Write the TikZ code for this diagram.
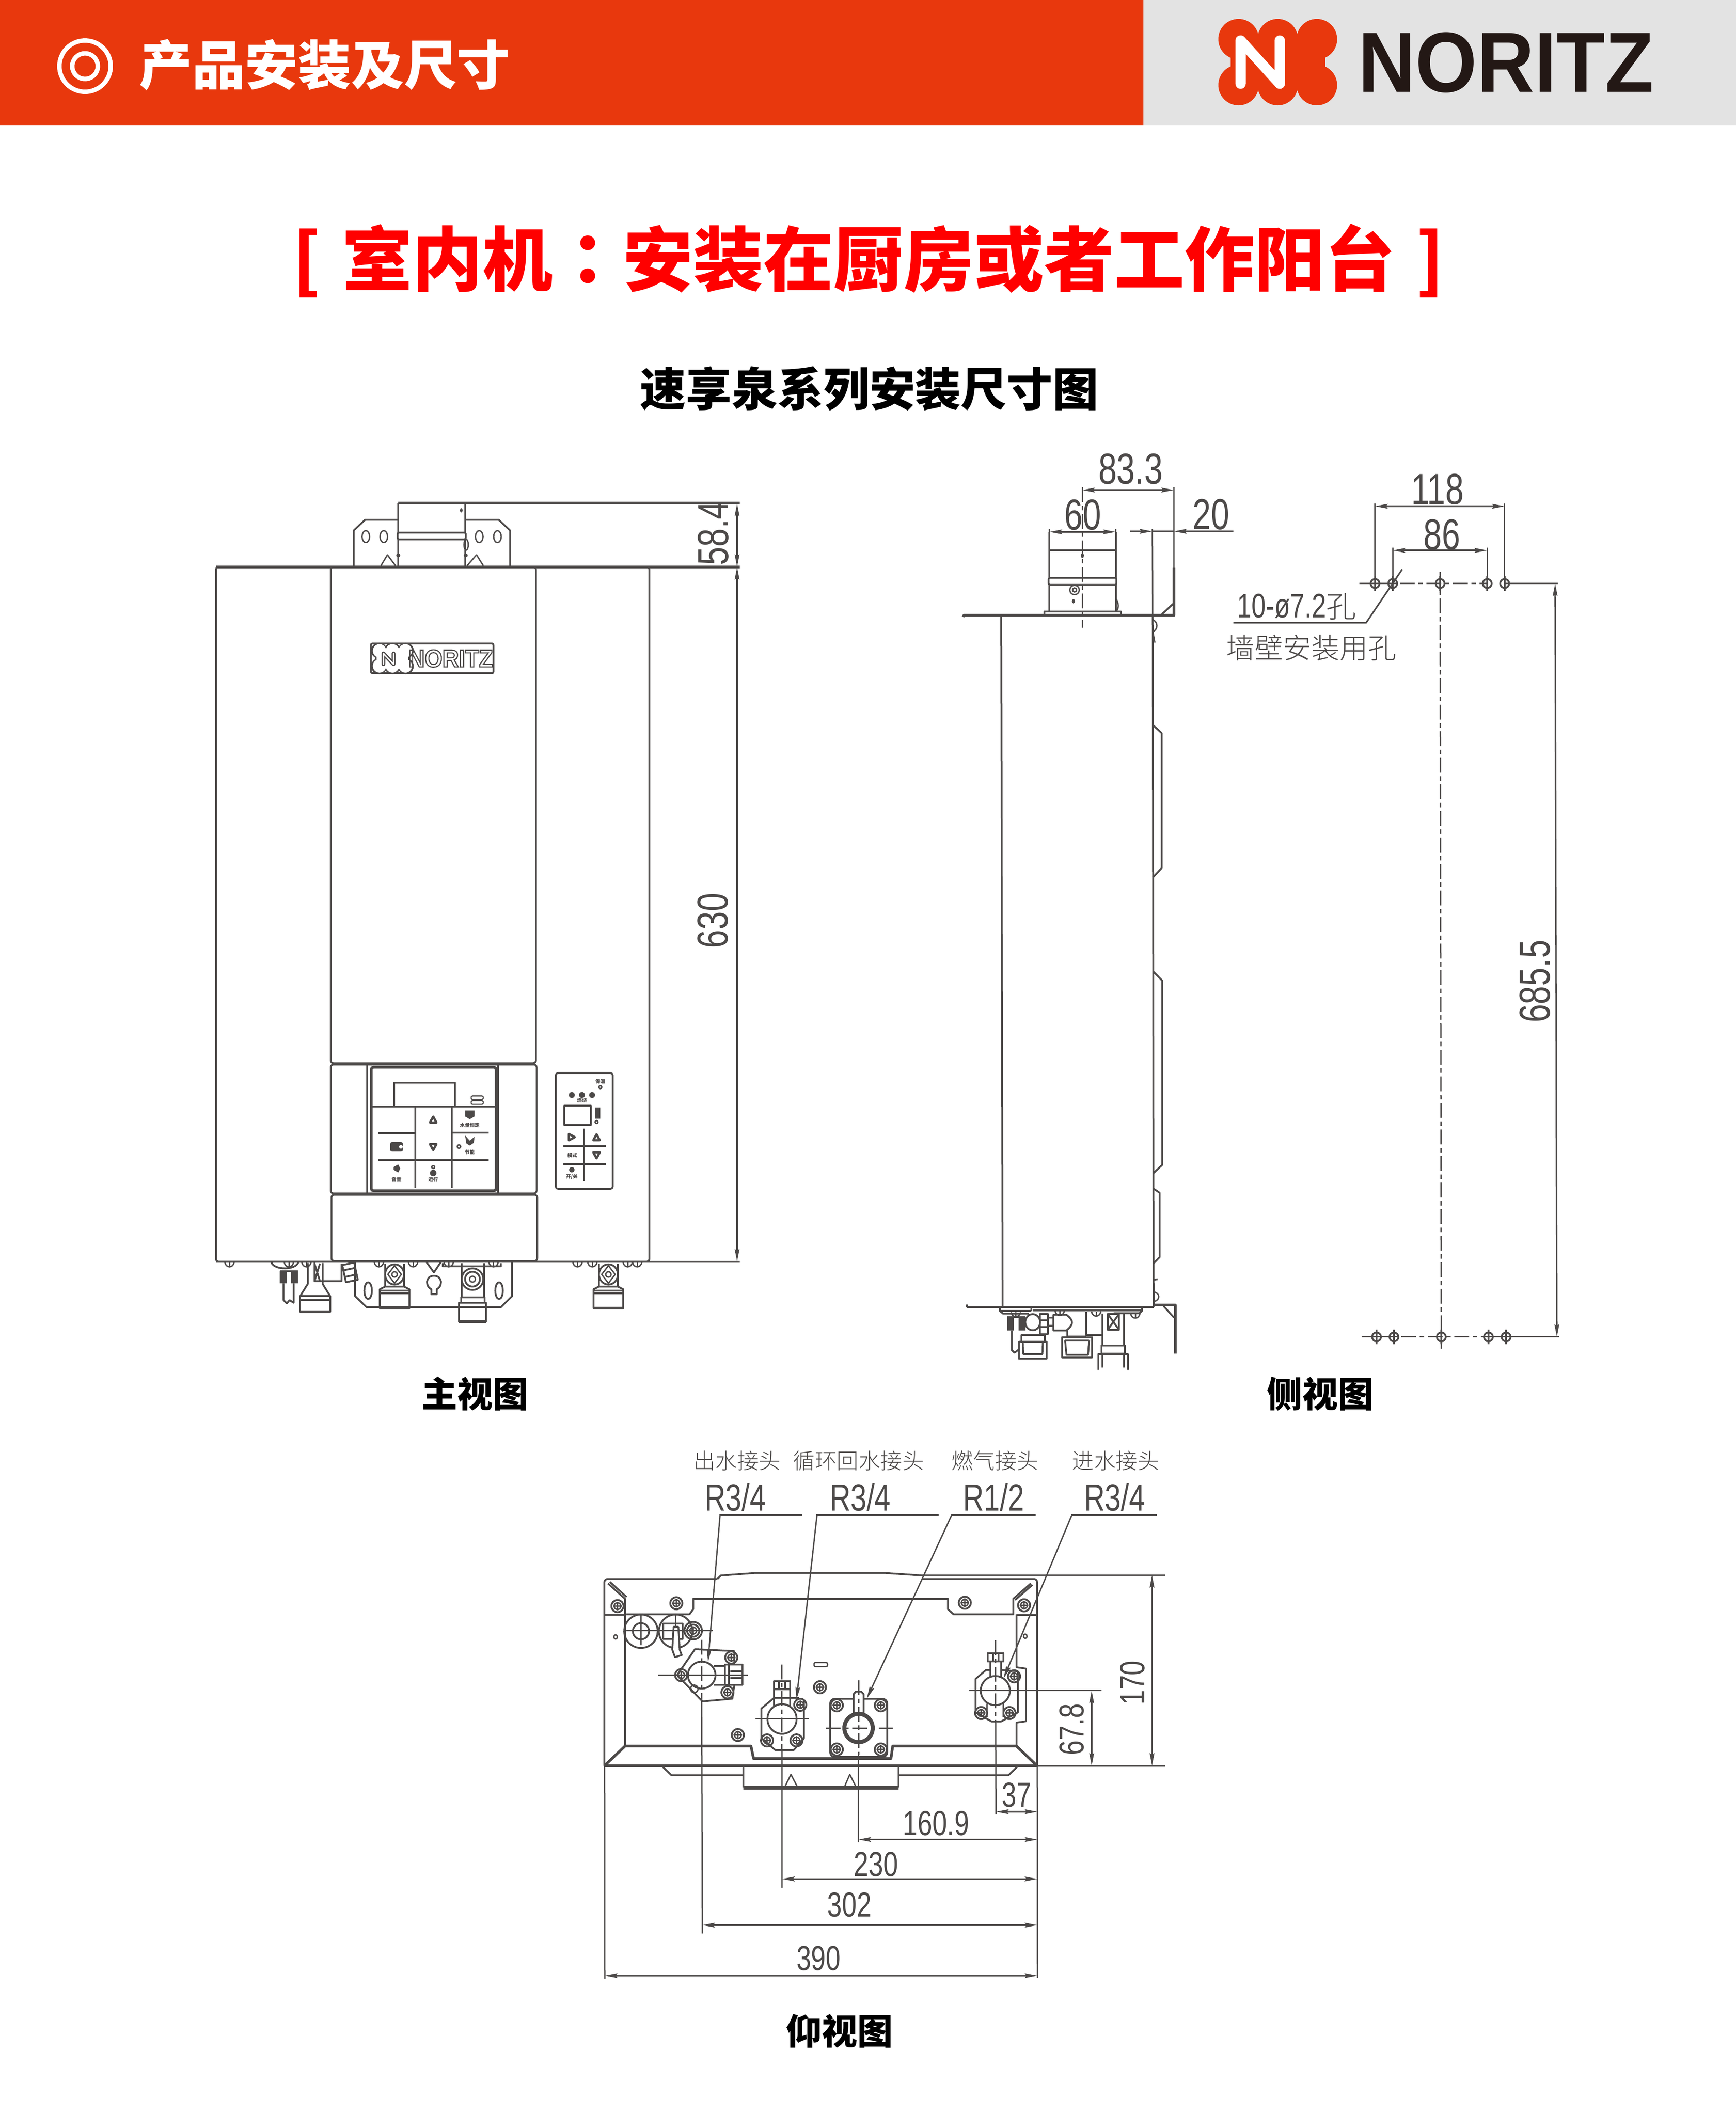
\documentclass[tikz,border=0pt]{standalone}
\usepackage{fontspec}
\usetikzlibrary{arrows.meta}
\newfontfamily\cjk{Noto Sans CJK SC}
\newfontfamily\cjkblack{Noto Sans CJK SC Black}
\newfontfamily\cjkthin{Noto Sans CJK SC Light}
\newfontfamily\cjktc{Noto Sans CJK TC Black}
\newfontfamily\dimfont[FakeStretch=0.76]{Liberation Sans}
\newfontfamily\logofont[FakeStretch=0.93]{Liberation Sans}
\definecolor{headred}{HTML}{E8380D}
\definecolor{headgray}{HTML}{E3E3E3}
\definecolor{logoblack}{HTML}{231815}
\definecolor{linegray}{HTML}{4C4948}
\tikzset{
  >={Stealth[length=2.8mm,width=1.05mm,inset=0.4mm]},
  part/.style={draw=linegray, line width=0.4mm, line join=round},
  thinpart/.style={draw=linegray, line width=0.3mm, line join=round},
  heavypart/.style={draw=linegray, line width=0.6mm, line join=round},
  dim/.style={draw=linegray, line width=0.33mm, <->},
  extline/.style={draw=linegray, line width=0.3mm},
  leader/.style={draw=linegray, line width=0.3mm, ->},
  axisline/.style={draw=linegray, line width=0.3mm, dash pattern=on 3.3mm off 0.8mm on 1mm off 0.8mm},
  dimbig/.style={font=\dimfont\fontsize{27.5}{27.5}\selectfont, text=linegray, inner sep=0pt},
  dimsmall/.style={font=\dimfont\fontsize{22}{22}\selectfont, text=linegray, inner sep=0pt},
  sizelabel/.style={font=\dimfont\fontsize{24}{24}\selectfont, text=linegray, inner sep=0pt},
  cjklabel/.style={font=\cjkthin\fontsize{13.8}{14}\selectfont, text=linegray, inner sep=0pt},
  caption/.style={font=\cjkblack\fontsize{22.5}{23}\selectfont, inner sep=0pt},
  tinylabel/.style={font=\cjk\bfseries\fontsize{3.1}{3.2}\selectfont, text=linegray, inner sep=0pt},
  flower/.pic={
    \foreach \lx in {-29,0,29} \foreach \ly in {-17,17} {\path[pic actions] (\lx,\ly) circle (15);}
    \path[pic actions] (-35,-9) rectangle (35,9);
    \path[pic actions] (-29,-17) rectangle (29,17);
  },
  screw/.pic={
    \draw[part,fill=white] (0,0) circle (4.5);
    \draw[thinpart] (0,0) circle (2.5) (-3.2,0) -- (3.2,0) (0,-3.2) -- (0,3.2);
  },
  halfscrew/.pic={
    \draw[thinpart] (-3.5,0) .. controls (-2.5,4.5) and (2.5,4.5) .. (3.5,0);
    \draw[thinpart] (0,0) -- (0,3.5);
  },
  wallhole/.pic={
    \draw[part] (0,0) circle (3.3) (0,-5.4) -- (0,5.4);
  },
  frontvalve/.pic={
    \draw[part] (-7,1) -- (-7,18) (7,1) -- (7,18);
    \draw[part] (0,9) ellipse (7 and 7.5);
    \draw[thinpart] (0,2.5) -- (5,9) -- (0,15.5) -- (-5,9) -- cycle (0,9) circle (2);
    \draw[part] (-7,18) -- (-11,20) -- (-11,34) -- (11,34) -- (11,20) -- (7,18) -- cycle;
    \draw[part] (-11,21) -- (11,21) (-11,23) -- (11,23);
    \draw[heavypart] (-11,34) -- (11,34);
  },
  uptri/.pic={\draw[part,line width=0.5mm] (0,-2.4) -- (2.4,2) -- (-2.4,2) -- cycle;},
}

\begin{document}
\begin{tikzpicture}[x=0.3mm,y=-0.3mm]
  \useasboundingbox (0,0) rectangle (1286,1566.67);

  % header band
  \fill[headred] (0,0) rectangle (847,93);
  \fill[headgray] (847,0) rectangle (1286,93);
  \draw[white,line width=1mm] (63,49) circle (19);
  \draw[white,line width=1mm] (63,49) circle (9.5);
  \node[font=\cjkblack\fontsize{33.5}{34}\selectfont,text=white,inner sep=0pt] (headtext) at (240.5,48) {产品安装及尺寸};
  \pic[fill=headred] at (946.5,46) {flower};
  \draw[white,line width=2.3mm,line cap=round,line join=round] (919,62) -- (919,30) -- (948,62) -- (948,30);
  \node[font=\logofont\bfseries\fontsize{54}{54}\selectfont,text=logoblack,inner sep=0pt] (logotext) at (1115.5,46.5) {NORITZ};

  % titles
  \node[font=\cjkblack\fontsize{44.4}{45}\selectfont,text=red,inner sep=0pt] (maintitle) at (643.5,193)
    {[\hspace{0.3em}室内机{\cjktc：}安装在厨房或者工作阳台\hspace{0.3em}]};
  \node[font=\cjkblack\fontsize{29}{30}\selectfont,inner sep=0pt] (subtitle) at (644,288) {速享泉系列安装尺寸图};

  % front view
  \draw[part,rounded corners=0.5mm] (160,420) rectangle (481,934.5);
  \draw[part,rounded corners=0.6mm] (245,420) rectangle (397,787.5);
  \draw[part,rounded corners=0.6mm] (245,788.5) rectangle (397.5,884);
  \draw[part,rounded corners=0.6mm] (245.5,885) rectangle (398,934);
  \draw[part] (272,789) -- (272,884) (369,789) -- (369,884);
  \draw[heavypart] (160,420) -- (548,420);
  \draw[part] (160,934.5) -- (548,934.5);
  % flue and brackets
  \draw[heavypart] (295,372.5) -- (548,372.5);
  \draw[part] (295,372.5) -- (295,419.5) (344.5,372.5) -- (344.5,419.5);
  \draw[part,rounded corners=0.3mm,fill=white] (294.5,394.5) rectangle (345,399.5);
  \draw[part] (295,385) -- (270.5,385) -- (262,393) -- (262,419.5);
  \draw[part] (344.5,385) -- (369.4,385) -- (377.9,393) -- (377.9,419.5);
  \foreach \sx in {271,284.3,355,368.5} {\draw[thinpart] (\sx,397.5) ellipse (2.8 and 4.4);}
  \draw[thinpart] (282.2,419) -- (287,411) -- (293,419) (346,419) -- (353,411) -- (358,419);
  \fill[linegray] (341.7,378) ellipse (1 and 1.6) (295,411.4) circle (1.5) (345,411.4) circle (1.5);
  \draw[thinpart] (345.3,403.5) ellipse (1.6 and 4);
  % name plate
  \draw[part,rounded corners=0.3mm] (274.8,476.7) rectangle (365.5,498.7);
  \pic[scale=0.34,draw=linegray,line width=0.5mm] at (290.7,487.7) {flower};
  \pic[scale=0.33,fill=white] at (290.7,487.7) {flower};
  \draw[linegray,line width=0.85mm,line join=round,line cap=round] (284,492) -- (284,484) -- (291.5,492) -- (291.5,484);
  \draw[white,line width=0.3mm,line join=round,line cap=round] (284,492) -- (284,484) -- (291.5,492) -- (291.5,484);
  \node[font=\logofont\bfseries\fontsize{15.5}{16}\selectfont,text=linegray,inner sep=0pt] (plateword) at (333.8,487.8)
    {\special{pdf:code 1 Tr 0.7 w}NORITZ\special{pdf:code 0 Tr}};
  % control panel
  \draw[heavypart,rounded corners=0.5mm] (275,790.5) rectangle (367.5,882);
  \draw[part] (292,819.5) -- (292,802) -- (337,802) -- (337,819.5);
  \draw[part] (275,819.5) -- (367.5,819.5);
  \draw[thinpart,rounded corners=0.3mm,line width=0.25mm] (349,811.8) rectangle (358,814.4) (349,815.4) rectangle (358,818);
  \draw[part] (307.5,819.5) -- (307.5,880) (334.7,819.5) -- (334.7,880);
  \draw[part] (280,839.4) -- (307.5,839.4) (334.7,839) -- (362,839);
  \draw[part] (280,859.4) -- (362,859.4);
  \pic at (320.9,829.5) {uptri};
  \pic[yscale=-1] at (320.9,849.5) {uptri};
  \fill[linegray] (344.5,822.5) -- (351.5,822.5) -- (351.5,827) -- (348,829) -- (344.5,827) -- cycle;
  \node[tinylabel] (paneltag) at (348,833.4) {水量恒定};
  \fill[linegray] (344.5,841) -- (348,845) -- (351.5,842) -- (351,846.5) -- (348,848.5) -- (345.5,847) -- cycle;
  \draw[thinpart] (340,849.3) circle (1.3);
  \node[tinylabel] (paneleco) at (348,853.4) {节能};
  \fill[linegray,rounded corners=0.4mm] (289,846) rectangle (298.5,853);
  \fill[white] (297,849.5) circle (1.4);
  \fill[linegray] (291.5,864.5) -- (295,862.5) -- (296.5,865.5) -- (295,868.5) -- (291.5,866.5) -- cycle;
  \node[tinylabel] (panelvol) at (293.7,873.6) {音量};
  \draw[thinpart] (320.9,864.5) circle (1.1);
  \fill[linegray] (320.9,868.9) circle (2.4);
  \node[tinylabel] (panelrun) at (320.9,873.9) {运行};
  % second panel
  \draw[part,rounded corners=0.5mm] (411.7,794.8) rectangle (453.9,880.6);
  \node[tinylabel] (sidetag) at (444.7,801.1) {保温};
  \draw[thinpart] (444.7,805.3) circle (1.1) (441.9,831.1) circle (1.1);
  \fill[linegray] (423.6,811.1) circle (2.2) (431.1,811.1) circle (2.2) (438.6,811.1) circle (2.2);
  \node[tinylabel] (sidewater) at (431.1,815) {燃烧};
  \draw[part] (418.1,818.9) rectangle (437.6,833.4);
  \fill[linegray] (440.8,820.2) rectangle (444.8,828.6);
  \draw[part] (432.8,836.1) -- (432.8,875) (417.3,848.9) -- (448.9,848.9) (417.3,862.3) -- (448.9,862.3);
  \pic[rotate=-90] at (423.4,842.3) {uptri};
  \pic at (441.9,842.6) {uptri};
  \pic[yscale=-1] at (441.9,855.6) {uptri};
  \node[tinylabel] (sidemode) at (423.9,855.9) {模式};
  \fill[linegray] (423.6,866.5) circle (2);
  \node[tinylabel] (sidepower) at (423.6,871.7) {开/关};
  % fittings under the front view
  \draw[part] (201,935) .. controls (203,941) and (219,941) .. (221,935);
  \fill[linegray] (207.2,941.5) rectangle (212.5,950.5) (215.5,941.5) rectangle (220.8,950.5);
  \draw[part] (207.2,941.5) -- (220.8,941.5);
  \draw[part] (210,950.5) -- (210,963) -- (212.5,965.5) -- (214.5,963) -- (217.5,965) -- (217.5,950.5);
  \draw[part] (228,935.5) -- (228,951) -- (222.4,960) (239,935.5) -- (239,951) -- (244.5,960);
  \draw[part] (222.4,960) rectangle (244.5,971.7) (222.4,963) -- (244.5,963);
  \draw[heavypart] (222.4,971.7) -- (244.5,971.7);
  \draw[part] (233,935) -- (233,949) -- (253,949) -- (253,936) (233,936) -- (237,949) (237,936) -- (233,949);
  \draw[part,rotate around={12:(259.3,942.5)}] (254.8,936) rectangle (263.8,949) (255,940) -- (263,940) (255,945) -- (263,945);
  \draw[part] (263,935) -- (263,960) -- (271.6,968.3) -- (371,968.3) -- (379.4,960) -- (379.4,935);
  \draw[part] (272.7,956) ellipse (2.8 and 6.2) (369.7,956) ellipse (2.8 and 6.2);
  \draw[part] (321.4,945) .. controls (328,945) and (328,953) .. (323.5,955) -- (323.5,958.7) -- (319.5,958.7) -- (319.5,955) .. controls (315,953) and (315,945) .. (321.4,945);
  \draw[part] (316,935) -- (321.4,942.5) -- (326.5,935);
  \pic at (292.3,935) {frontvalve};
  \pic at (450.7,935) {frontvalve};
  % gas fitting
  \draw[part] (342,935.5) -- (342,961) (358.7,935.5) -- (358.7,961);
  \draw[part] (350,947.5) circle (8) (350,947.5) circle (5.5);
  \draw[thinpart] (350,947.5) circle (2.2);
  \draw[part] (341.5,961) rectangle (358.9,965) (340,965) rectangle (360,979);
  \draw[heavypart] (340,979) -- (360,979);
  \draw[part] (328,935.5) -- (328,938) -- (371,938) -- (371,935.5);
  \foreach \sx in {170,214,227,280.7,306,332.4,365.6,427.8,438.8,465,472} {\pic at (\sx,935) {halfscrew};}
  % front view dimensions
  \coordinate (mtop) at (546,373);
  \coordinate (mmid) at (546,420);
  \coordinate (mbot) at (546,934.5);
  \draw[dim] (mtop) -- (mmid);
  \draw[dim] (mmid) -- (mbot);
  \node[dimbig,rotate=90] (dimflue) at (528.5,395) {58.4};
  \node[dimbig,rotate=90] (dimbody) at (528,682) {630};
  \node[caption] (frontcap) at (352,1032.5) {主视图};

  % side view
  \draw[part] (741.7,456) -- (742.7,968.3) (853.9,456) -- (854.6,968);
  \draw[heavypart] (713.4,457) -- (714,455.8) -- (869.6,455.8) -- (869.6,420.5);
  \draw[part] (860.7,455) -- (869,447.3);
  \draw[part] (777.4,394) -- (777.4,453) (826.5,394) -- (826.5,453) (777.4,407.8) -- (826.5,407.8);
  \draw[part,rounded corners=0.3mm,fill=white] (776.8,428) rectangle (827,433.2);
  \draw[part] (773.8,455.6) -- (773.8,453) -- (830.4,453) -- (830.4,455.6);
  \draw[thinpart] (796,437) circle (3.5) (796,437) circle (1.5);
  \fill[linegray] (795.2,445.4) ellipse (1.2 and 1.6) (801.8,411.5) ellipse (1.2 and 1.8);
  \draw[thinpart] (826.5,443) .. controls (829,447) and (829,451) .. (826.5,453);
  \draw[thinpart] (854,459) .. controls (858,461) and (858,466) .. (854,468) -- (855.5,476);
  \draw[part] (854,537) -- (860.5,543) -- (860.5,643) -- (854,650);
  \draw[part] (854.3,719.6) -- (861,726.4) -- (861,862.8) -- (854.4,869);
  \draw[part] (854.4,880.4) -- (859,883.5) -- (859,931.2) -- (854.6,935.8);
  \draw[part] (855,948) -- (857.5,947.5);
  \draw[thinpart] (855,957) .. controls (859.5,958) and (859.5,963) .. (855,964);
  \draw[part] (716,968.3) -- (854.8,968.3);
  \draw[part] (716,968.3) -- (716.5,966.3);
  \draw[heavypart] (854.8,966.8) -- (870.6,966.8) -- (870.6,1002.8);
  \draw[part] (862,967.5) -- (869.7,976);
  \draw[part] (740.6,968.5) -- (740.6,971) -- (743,973) -- (762,973);
  \draw[part] (740.6,971) -- (764,971) (764,968.5) -- (764,971) (765,970.5) -- (845,970.5);
  \draw[part] (846,968.5) -- (846,971) -- (844,972.8) -- (825,972.8);
  % fittings under the side view
  \fill[linegray] (746,975.5) rectangle (751,985.5) (754.5,975.5) rectangle (759.7,985.5);
  \draw[part] (746,975.5) -- (759.7,975.5);
  \draw[part] (749.5,985.5) -- (749.5,1000) -- (751.5,1002) -- (754.9,999.5);
  \draw[part] (765,979.4) ellipse (5.5 and 6);
  \draw[part] (770.4,973.3) rectangle (776.3,988.3) (770.4,978) -- (776.3,978) (770.4,983) -- (776.3,983);
  \draw[part] (776.3,976) rectangle (780.4,982);
  \draw[part] (780.4,973.9) -- (790,973.9) .. controls (795.5,978) and (795.5,981) .. (790,985.5) -- (780.4,985.5) -- cycle;
  \draw[part] (756.8,988.9) rectangle (774,993.9);
  \draw[part] (754.9,993.9) rectangle (775.3,1006.4) (757.7,994) -- (758,1003) -- (772.2,1003) -- (772.5,994);
  \draw[part] (790.6,985.5) -- (790.6,990) (804.6,971.6) -- (804.6,988.9) -- (816.8,988.9) (790.6,990) -- (804.6,990);
  \draw[part] (786.8,990.5) -- (809,990.5) -- (809,1005.5) -- (786.8,1005.5) -- cycle (789,993) -- (806.8,993) (789,993) -- (790,1003.5) -- (806,1003.5) -- (806.8,993);
  \draw[part] (816.8,973) -- (816.8,996.6) (832.7,973) -- (832.7,996.6);
  \draw[part] (820.6,973.3) rectangle (828.9,985) (820.6,973.3) -- (828.9,985) (828.9,973.3) -- (820.6,985);
  \draw[part] (815.9,996.6) rectangle (833.3,1002.8);
  \draw[part] (813.6,1014.7) -- (813.6,1003) -- (835.6,1003) -- (835.6,1014.7) (816.5,1003) -- (816.5,1013) (832.7,1003) -- (832.7,1013);
  \foreach \sx/\sy in {752.5/972,812/971.5,841/973,785/971} {\pic at (\sx,\sy) {halfscrew};}
  % side view dimensions
  \coordinate (saxis) at (801.8,363);
  \coordinate (sedge) at (869.6,363);
  \coordinate (wleft) at (777.4,394);
  \coordinate (wright) at (826.5,394);
  \coordinate (gapa) at (853.6,393.6);
  \coordinate (gapb) at (869.6,393.6);
  \coordinate (gapfara) at (837,393.6);
  \coordinate (gapfarb) at (913.7,393.6);
  \draw[axisline] (801.8,361) -- (801.8,465);
  \draw[extline] (869.6,361) -- (869.6,421) (853.6,392) -- (853.9,456) (777.4,392) -- (777.4,395) (826.5,392) -- (826.5,395);
  \draw[dim] (saxis) -- (sedge);
  \draw[dim] (wleft) -- (wright);
  \draw[extline,->] (gapfara) -- (gapa);
  \draw[extline,->] (gapfarb) -- (gapb);
  \draw[extline] (gapa) -- (gapb);
  \node[dimbig] (dimdepth) at (837.5,347.5) {83.3};
  \node[dimbig] (dimflued) at (802,381.5) {60};
  \node[dimbig] (dimgap) at (897,381) {20};
  \node[caption] (sidecap) at (978,1032.5) {侧视图};

  % wall holes
  \foreach \hx in {1018.6,1031.7,1066.8,1101.7,1114.6} {\pic at (\hx,432.2) {wallhole};}
  \foreach \hx in {1019.7,1032.6,1067.7,1102.6,1115.7} {\pic at (\hx,990.3) {wallhole};}
  \draw[extline] (1007,432.2) -- (1035,432.2) (1114.6,432.2) -- (1154,432.2) (1008.7,990.3) -- (1036,990.3) (1102.6,990.3) -- (1155,990.3);
  \draw[axisline] (1037,432.2) -- (1101.7,432.2);
  \draw[axisline] (1038,990.3) -- (1102,990.3);
  \draw[axisline] (1066.8,423.7) -- (1067.7,999);
  \draw[extline] (1018.6,373) -- (1018.6,429) (1114.6,373) -- (1114.6,429) (1031.7,405.8) -- (1031.7,429) (1101.7,405.8) -- (1101.7,429);
  \coordinate (ha) at (1018.6,375);
  \coordinate (hb) at (1114.6,375);
  \coordinate (hc) at (1031.7,407.7);
  \coordinate (hd) at (1101.7,407.7);
  \coordinate (he) at (1152,432.2);
  \coordinate (hf) at (1153.3,990.3);
  \draw[dim] (ha) -- (hb);
  \draw[dim] (hc) -- (hd);
  \draw[dim] (he) -- (hf);
  \node[dimbig] (dimouter) at (1065,362.5) {118};
  \node[dimbig] (diminner) at (1068,396) {86};
  \node[dimbig,rotate=90] (dimheight) at (1137,727) {685.5};
  \coordinate (na) at (913.7,461.3);
  \coordinate (nb) at (1012,461.3);
  \coordinate (nc) at (1038.7,421.7);
  \draw[extline,line width=0.35mm] (na) -- (nb) -- (nc);
  \node[font=\dimfont\fontsize{21.5}{22}\selectfont,text=linegray,inner sep=0pt] (holetext) at (960.5,449.5) {10-ø7.2{\cjkthin\fontsize{19}{20}\selectfont 孔}};
  \node[cjklabel,font=\cjkthin\fontsize{17.9}{18}\selectfont] (holenote) at (971.5,480) {墙壁安装用孔};

  % bottom view outline
  \draw[part,rounded corners=0.7mm] (531.4,1169.6) -- (447.7,1169.6) -- (447.7,1308);
  \draw[part] (531.4,1169.6) -- (534,1167) -- (559,1165.2) -- (655.8,1165.2) -- (683.4,1167);
  \draw[part,rounded corners=0.7mm] (683,1169.6) -- (768.3,1169.6) -- (768.3,1308);
  \draw[heavypart] (447.7,1308) -- (768.3,1308);
  \draw[extline] (683.4,1166.7) -- (863,1166.7) (768.3,1308) -- (863,1308);
  \draw[heavypart] (447.7,1308) -- (463,1293.4) -- (556.3,1293.4) -- (558.2,1302.6) -- (660,1302.6) -- (661.3,1293.4) -- (753,1293.4) -- (768.3,1308);
  \draw[part] (463,1195.8) -- (463,1293.4) (753,1195.8) -- (753,1235) -- (760,1236) -- (760,1275) -- (753,1276) -- (753,1293.4);
  \draw[part] (447.7,1196.2) -- (463,1196.2) -- (463,1184.3) -- (450.4,1172.9) (451.8,1171.8) -- (464.2,1183);
  \draw[part] (464,1195.8) -- (510.7,1195.8) -- (513.5,1192) -- (513.5,1184.3) -- (702.2,1184.3) -- (702.2,1192) -- (706.4,1195.8) -- (750.6,1195.8) -- (750.6,1184.3) -- (763.6,1172.9) (752,1185.2) -- (764.8,1173.9);
  \draw[part] (753,1196.2) -- (768.3,1196.2);
  \foreach \sx/\sy in {457.4/1189.7,501/1187.6,714.7/1187.2,758.6/1189.1,513.5/1207.9,541.7/1227.8,504.6/1240.8,538.9/1253.6,592.8/1262.8,607.4/1249.8,546.6/1285.2,568.2/1289.2,590/1289.2,619.9/1263.2,652.5/1263.2,619.9/1295.9,652.5/1295.9,751.2/1241.7,726.8/1268.9,747.8/1268.9} {\pic at (\sx,\sy) {screw};}
  \draw[thinpart] (456,1212.5) ellipse (1.3 and 1.6) (759.5,1212) ellipse (1.3 and 1.6);
  \draw[thinpart,rounded corners=0.3mm] (603,1231.5) rectangle (613,1234.5);
  % flue and air connections
  \draw[part] (474.8,1208.3) circle (12.4) (474.8,1208.3) circle (6) (500.5,1208.3) circle (12.4);
  \draw[part] (491.3,1202.5) rectangle (505.7,1214);
  \draw[part,fill=white] (499,1205) -- (502.5,1205) -- (503.5,1222) -- (505,1226) -- (500,1227.5) -- (498,1222) -- cycle;
  \draw[part] (513.5,1207.9) circle (6.5);
  \draw[extline] (464,1207.9) -- (528,1207.9) (474.8,1195.8) -- (474.8,1218.8) (500.5,1195.8) -- (500.5,1206);
  % outlet connection
  \draw[part] (501.6,1240.8) -- (514.8,1221.6) -- (543.9,1223) -- (544,1233);
  \draw[part] (501.6,1240.8) -- (520.4,1260.3) -- (542.5,1258.3) -- (544,1248);
  \draw[part] (519.8,1240.8) ellipse (10.2 and 10);
  \draw[part] (529,1234) -- (537,1234) (529,1248) -- (537,1248);
  \draw[part] (537,1233) rectangle (550,1248) (540,1233) -- (540,1248) (541,1238) -- (550,1238) (541,1243) -- (550,1243);
  \draw[thinpart] (514.3,1251) circle (2.8);
  \draw[extline] (487.8,1240.8) -- (554,1240.8);
  % return connection
  \draw[part] (573.4,1245.2) rectangle (585.3,1251.3) (577,1245.2) -- (577,1251.3) (581.5,1245.2) -- (581.5,1251.3);
  \draw[part] (573.4,1251.3) -- (573.4,1264) (585.3,1251.3) -- (585.3,1264) (573.4,1257.5) -- (592,1257.5);
  \draw[part] (573,1258) -- (564,1265.6) -- (564,1287.6) -- (574.3,1296.3) -- (588,1296.3) -- (595.5,1287.6) -- (595.5,1259);
  \draw[part] (579.3,1273.3) ellipse (10.8 and 11);
  \draw[extline] (559.6,1273.3) -- (599.2,1273.3);
  % gas connection
  \draw[part,rounded corners=1mm] (615,1258.4) rectangle (657.2,1301.4);
  \draw[part,fill=white] (632.3,1271) -- (632.3,1255) -- (634,1253) -- (638,1253) -- (639.8,1255) -- (639.8,1271);
  \draw[line width=0.9mm,draw=linegray,fill=white] (636,1280) circle (10.5);
  \draw[axisline] (611.6,1280) -- (661.3,1280);
  % inlet connection
  \draw[part] (731.8,1224.5) rectangle (743.4,1230.8) (735.5,1224.5) -- (735.5,1230.8) (739.5,1224.5) -- (739.5,1230.8);
  \draw[part] (733.5,1230.8) -- (733.5,1242) (741.5,1230.8) -- (741.5,1242);
  \draw[part] (733.5,1237) -- (730.4,1237) -- (722.7,1243.6) -- (722.7,1268.5) -- (734.6,1275.2) -- (741.5,1275.2) -- (754,1268.5) -- (754,1238) -- (741.5,1237);
  \draw[part] (737.3,1252.3) ellipse (10.8 and 10.8);
  \draw[thinpart] (731,1262) -- (731,1272) (743,1262) -- (743,1272);
  % lower edge of bottom view
  \draw[part] (490.5,1308.3) -- (497.4,1315) -- (550.8,1315) (665.5,1315) -- (747,1315) -- (754,1308.3);
  \draw[part] (550.8,1308) -- (550.8,1324) (665.5,1308) -- (665.5,1324);
  \draw[heavypart,line width=0.9mm] (550.8,1324) -- (665.5,1324);
  \draw[thinpart] (581.2,1324) -- (585.9,1314.4) -- (590.9,1324) (625.4,1324) -- (629.5,1314.4) -- (634.3,1324);
  % axes and extension lines of bottom view
  \coordinate (ax) at (519.8,1214.6);
  \coordinate (bx) at (579.3,1233);
  \coordinate (cx) at (636,1244.6);
  \coordinate (dx) at (737.5,1215);
  \draw[axisline] (ax) -- (519.8,1262);
  \draw[axisline] (bx) -- (579.3,1297);
  \draw[axisline] (cx) -- (636,1300);
  \draw[axisline] (dx) -- (737.5,1276);
  \draw[extline] (519.8,1262) -- (520.3,1432.2) (579.3,1297) -- (579.3,1398.4) (635.9,1300) -- (635.9,1364.7) (737.6,1276) -- (737.8,1344);
  \draw[extline] (447.9,1308) -- (448,1465.6) (768.4,1308) -- (768.5,1465);
  \draw[extline] (718,1252.3) -- (816.1,1252.3);
  % bottom view dimensions
  \coordinate (da) at (737.8,1342);
  \coordinate (db) at (768.5,1342);
  \coordinate (ea) at (635.9,1362.6);
  \coordinate (eb) at (768.5,1362.6);
  \coordinate (fa) at (579.3,1391.8);
  \coordinate (fb) at (768.5,1391.8);
  \coordinate (ga) at (520.3,1426);
  \coordinate (gb) at (768.5,1426);
  \coordinate (pa) at (448,1463.4);
  \coordinate (pb) at (768.5,1463.4);
  \coordinate (qa) at (853.4,1166.7);
  \coordinate (qb) at (853.4,1308);
  \coordinate (ra) at (808.7,1252.3);
  \coordinate (rb) at (808.7,1308);
  \draw[dim] (da) -- (db);
  \draw[dim] (ea) -- (eb);
  \draw[dim] (fa) -- (fb);
  \draw[dim] (ga) -- (gb);
  \draw[dim] (pa) -- (pb);
  \draw[dim] (qa) -- (qb);
  \draw[dim] (ra) -- (rb);
  \node[dimsmall] (dimthree) at (753,1329.5) {37};
  \node[dimsmall] (dimgas) at (693.4,1350.6) {160.9};
  \node[dimsmall] (dimret) at (649,1381) {230};
  \node[dimsmall] (dimout) at (629.3,1410.9) {302};
  \node[dimsmall] (dimwidth) at (606.4,1450.6) {390};
  \node[dimsmall,rotate=90] (dimtall) at (839,1246.5) {170};
  \node[dimsmall,rotate=90] (diminlet) at (794,1281) {67.8};
  % connection labels
  \coordinate (la) at (594.2,1122.2);
  \coordinate (lb) at (533.4,1122.2);
  \coordinate (lc) at (524.5,1231);
  \coordinate (ma) at (695.3,1122.2);
  \coordinate (mb) at (605.2,1122.2);
  \coordinate (mc) at (590,1259);
  \coordinate (oa) at (767.2,1122.2);
  \coordinate (ob) at (705,1122.2);
  \coordinate (oc) at (642,1258.4);
  \coordinate (sa) at (857,1122.2);
  \coordinate (sb) at (794,1122.2);
  \coordinate (sc) at (743.4,1243.3);
  \draw[leader] (la) -- (lb) -- (lc);
  \draw[leader] (ma) -- (mb) -- (mc);
  \draw[leader] (oa) -- (ob) -- (oc);
  \draw[leader] (sa) -- (sb) -- (sc);
  \node[cjklabel] (labout) at (546,1082) {出水接头};
  \node[cjklabel] (labret) at (636,1082) {循环回水接头};
  \node[cjklabel] (labgas) at (737,1082) {燃气接头};
  \node[cjklabel] (labin) at (826.6,1082) {进水接头};
  \node[sizelabel] (sizeout) at (544.7,1109) {R3/4};
  \node[sizelabel] (sizeret) at (637.3,1109) {R3/4};
  \node[sizelabel] (sizegas) at (736,1109) {R1/2};
  \node[sizelabel] (sizein) at (825.8,1109) {R3/4};
  \node[caption] (bottomcap) at (622,1504.5) {仰视图};
\end{tikzpicture}
\end{document}
